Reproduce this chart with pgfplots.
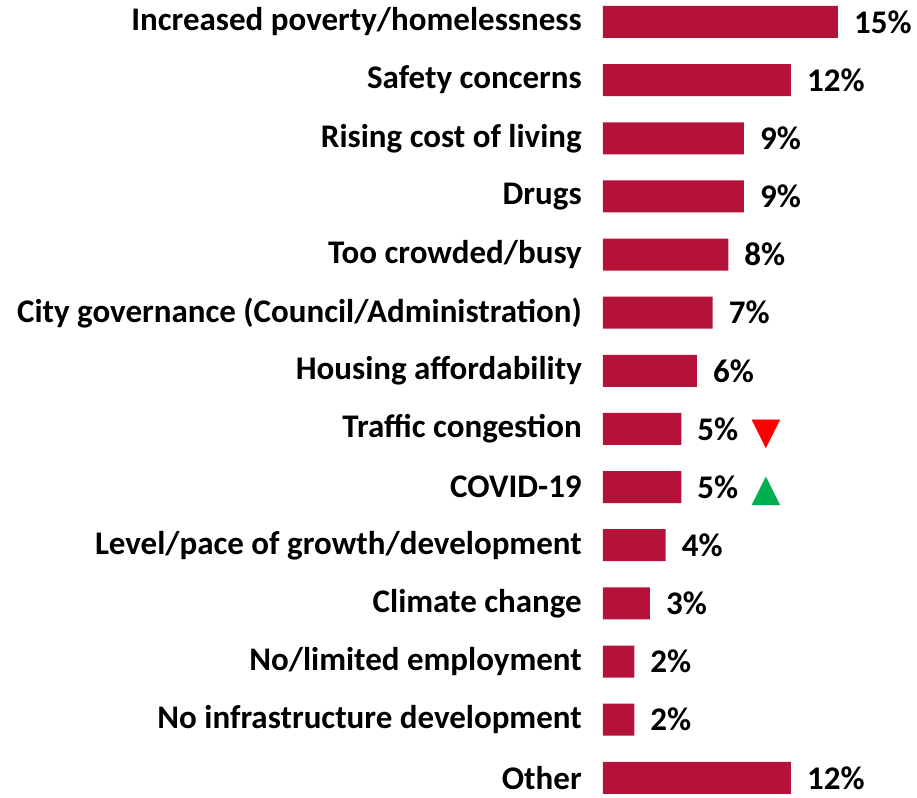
\documentclass[border=0pt]{standalone}
\usepackage{pgfplots}
\pgfplotsset{compat=1.18}
\usepackage{fontspec}
\setmainfont{Carlito}
\definecolor{barred}{HTML}{B5123A}
\definecolor{downred}{HTML}{FF0000}
\definecolor{upgreen}{HTML}{00B050}

\begin{document}
\begin{tikzpicture}
\begin{axis}[
    xbar,
    scale only axis,
    width=314pt, height=786pt,
    xmin=0, xmax=20.04,
    ymin=-0.378, ymax=13.14,
    y dir=reverse,
    bar width=32pt,
    axis line style={draw=none},
    xtick=\empty,
    ytick={0,...,13},
    major tick length=0pt,
    yticklabels={Increased poverty/homelessness, Safety concerns, Rising cost of living, Drugs, Too crowded/busy, City governance (Council/Administration), Housing affordability, Traffic congestion, COVID-19, Level/pace of growth/development, Climate change, No/limited employment, No infrastructure development, Other},
    yticklabel style={font=\fontsize{33}{36}\selectfont\bfseries, inner sep=0pt, xshift=-21pt, anchor=east},
    clip=false,
]
\addplot[draw=none, fill=barred,
    point meta=x,
    nodes near coords={\pgfmathprintnumber[assume math mode=true]{\pgfplotspointmeta}\%},
    every node near coord/.append style={font=\fontsize{33}{36}\selectfont\bfseries, anchor=west, inner sep=0pt, xshift=16pt, black},
] coordinates {
(15,0) (12,1) (9,2) (9,3) (8,4) (7,5) (6,6) (5,7) (5,8) (4,9) (3,10) (2,11) (2,12) (12,13)
};
\addplot[only marks, mark=triangle*, mark size=16pt, color=downred,
    mark options={rotate=180, yscale=1.155}] coordinates {(10.4,7.004)};
\addplot[only marks, mark=triangle*, mark size=16pt, color=upgreen,
    mark options={yscale=1.155}] coordinates {(10.4,8.146)};
\end{axis}
\path ([xshift=-603pt,yshift=-12pt]current axis.south west) rectangle (current axis.north east);
\end{tikzpicture}
\end{document}
